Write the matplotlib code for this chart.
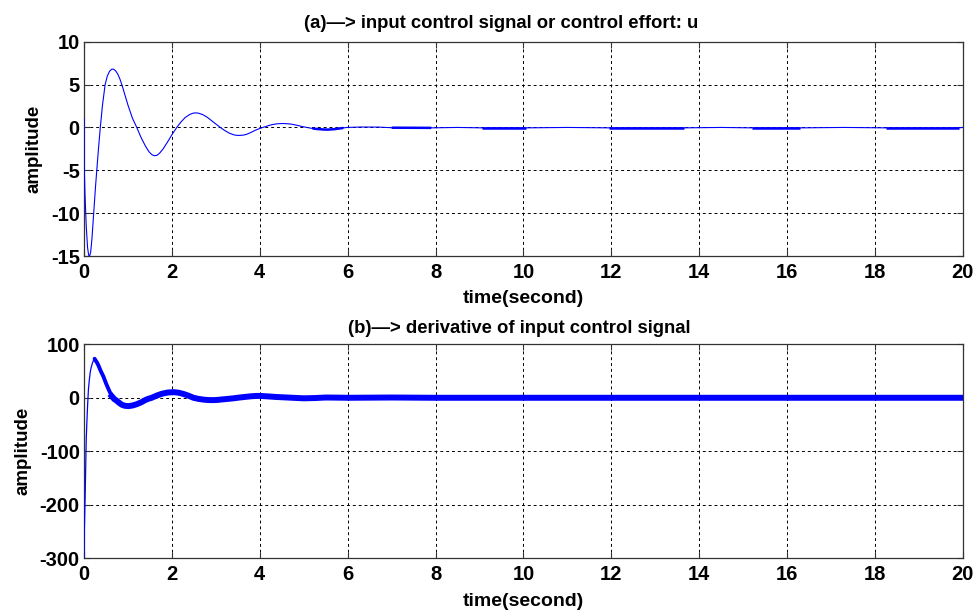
import numpy as np
import matplotlib
matplotlib.use("Agg")
import matplotlib.pyplot as plt
from matplotlib import font_manager

# ---------------- data ----------------
t_u = [0.0, 0.002, 0.02, 0.05, 0.08, 0.105, 0.126, 0.15, 0.18, 0.22, 0.26,
       0.29, 0.33, 0.37, 0.42, 0.48, 0.53, 0.58, 0.63, 0.67, 0.72, 0.77, 0.82,
       0.86, 0.93, 1.0, 1.1, 1.2, 1.3, 1.4, 1.48, 1.55, 1.6, 1.66, 1.72, 1.8,
       1.9, 2.0, 2.11, 2.2, 2.3, 2.4, 2.47, 2.53, 2.6, 2.7, 2.8, 2.95, 3.1,
       3.2, 3.3, 3.4, 3.47, 3.54, 3.62, 3.7, 3.8, 3.9, 4.01, 4.1, 4.2, 4.3,
       4.4, 4.54, 4.7, 4.85, 4.95, 5.07, 5.2, 5.3, 5.45, 5.56, 5.7, 5.8, 5.9,
       5.98, 6.3, 6.7, 7.0, 7.9, 8.5, 9.05, 10.05, 11.0, 11.95, 13.65, 14.5,
       15.2, 16.3, 17.3, 18.25, 19.9, 20.0]
u = [1.0, -4.0, -7.5, -11.5, -14.0, -14.9, -15.0, -14.6, -13.0, -10.0, -7.0,
     -5.0, -2.4, 0.0, 2.6, 5.0, 6.0, 6.55, 6.8, 6.8, 6.6, 6.2, 5.6, 5.0, 3.8,
     2.6, 1.1, 0.0, -1.2, -2.2, -2.85, -3.2, -3.3, -3.25, -3.0, -2.5, -1.7,
     -0.85, 0.0, 0.6, 1.15, 1.5, 1.65, 1.7, 1.67, 1.5, 1.2, 0.6, 0.0, -0.35,
     -0.65, -0.85, -0.92, -0.93, -0.9, -0.8, -0.58, -0.32, -0.1, 0.05, 0.22,
     0.35, 0.43, 0.46, 0.4, 0.25, 0.12, 0.0, -0.12, -0.18, -0.24, -0.25,
     -0.2, -0.13, -0.06, 0.0, 0.05, 0.04, -0.03, -0.05, 0.0, -0.05, -0.05,
     0.0, -0.05, -0.05, 0.0, -0.05, -0.05, 0.0, -0.05, -0.05, 0.0]
# intervals where the control signal chatters (drawn as a thicker trace)
u_chatter = [(5.2, 5.9), (7.0, 7.9), (9.05, 10.05), (11.95, 13.65),
             (15.2, 16.3), (18.25, 19.9)]

t_du = [0.0, 0.003, 0.015, 0.027, 0.04, 0.05, 0.065, 0.08, 0.1, 0.12, 0.14,
        0.16, 0.18, 0.21, 0.24, 0.27, 0.3, 0.33, 0.38, 0.44, 0.5, 0.56, 0.63,
        0.69, 0.75, 0.8, 0.86, 0.93, 1.01, 1.1, 1.2, 1.3, 1.39, 1.46, 1.54,
        1.65, 1.77, 1.9, 2.04, 2.15, 2.27, 2.38, 2.49, 2.6, 2.72, 2.83, 2.94,
        3.05, 3.15, 3.28, 3.4, 3.52, 3.65, 3.8, 3.93, 4.05, 4.2, 4.35, 4.5,
        4.75, 5.0, 5.25, 5.5, 5.75, 6.0, 7.0, 8.0, 10.0, 12.0, 14.0, 16.0,
        18.0, 20.0]
du = [-300.0, -265.0, -220.0, -178.0, -120.0, -78.0, -45.0, -16.0, 15.6,
      33.0, 47.0, 56.0, 62.0, 69.0, 73.0, 69.0, 65.0, 60.0, 50.0, 40.0, 27.0,
      15.6, 3.0, -2.5, -6.0, -9.5, -13.0, -15.0, -15.6, -14.5, -12.0, -8.5,
      -4.4, -2.0, 0.0, 4.0, 7.5, 9.8, 10.5, 9.5, 7.0, 3.8, 0.0, -2.0, -3.5,
      -4.2, -4.4, -3.9, -3.0, -2.0, -1.0, 0.3, 1.5, 2.8, 3.5, 3.3, 2.5, 1.6,
      1.0, 0.0, -1.0, -0.5, 0.5, 0.3, 0.0, 0.5, 0.0, 0.0, 0.0, 0.0, 0.0, 0.0,
      0.0]
du_thin_until = 0.24    # before the peak the trace is a thin line
du_medium_until = 0.63  # then a moderately thick band, afterwards full chatter

x_ticks = [0, 2, 4, 6, 8, 10, 12, 14, 16, 18, 20]
u_ticks = [-15, -10, -5, 0, 5, 10]
du_ticks = [-300, -200, -100, 0, 100]

title_a = "(a)\u2014> input control signal or control effort: u"
title_b = "(b)\u2014> derivative of input control signal"
xlabel = "time(second)"
ylabel = "amplitude"

# ---------------- style ----------------
avail = {f.name for f in font_manager.fontManager.ttflist}
main_font = "Liberation Sans" if "Liberation Sans" in avail else "DejaVu Sans"
plt.rcParams["font.family"] = [main_font, "DejaVu Sans"]
plt.rcParams["font.weight"] = "bold"
plt.rcParams["axes.unicode_minus"] = False

BLUE = "#0000ff"

fig = plt.figure(figsize=(9.76, 6.1), dpi=100)
ax1 = fig.add_axes([0.0861, 0.5803, 0.9005, 0.3513])
ax2 = fig.add_axes([0.0861, 0.0848, 0.9005, 0.3508])


def style(ax, yticks, ylim):
    ax.set_xlim(0, 20)
    ax.set_ylim(*ylim)
    ax.set_xticks(x_ticks)
    ax.set_yticks(yticks)
    ax.tick_params(direction="in", length=4, width=0.8, top=True, right=True,
                   labelsize=14.5, color="#333333")
    ax.tick_params(axis="x", pad=5)
    ax.tick_params(axis="y", pad=3)
    for lab in ax.get_xticklabels() + ax.get_yticklabels():
        lab.set_fontweight("bold")
    ax.grid(True, color="black", linestyle=(0, (3, 3)), linewidth=0.7)
    for s in ax.spines.values():
        s.set_linewidth(0.9)
        s.set_color("#333333")
    ax.set_axisbelow(True)
    ax.set_xlabel(xlabel, fontsize=14, fontweight="bold", labelpad=6)
    ax.set_ylabel(ylabel, fontsize=13.5, fontweight="bold", labelpad=6)


style(ax1, u_ticks, (-15, 10))
style(ax2, du_ticks, (-300, 100))

# top panel
tu = np.array(t_u)
uu = np.array(u)
ax1.plot(tu, uu, color=BLUE, linewidth=0.8, zorder=3)
for a, b in u_chatter:
    m = (tu >= a) & (tu <= b)
    ax1.plot(tu[m], uu[m], color=BLUE, linewidth=1.8, solid_capstyle="butt",
             zorder=3)
ax1.set_title(title_a, fontsize=13.3, fontweight="bold", pad=10, x=0.475)

# bottom panel
td = np.array(t_du)
dd = np.array(du)
k1 = int(np.searchsorted(td, du_thin_until)) + 1
k2 = int(np.searchsorted(td, du_medium_until)) + 1
ax2.plot(td[:k1], dd[:k1], color=BLUE, linewidth=0.9, zorder=3)
ax2.plot(td[k1 - 1:k2], dd[k1 - 1:k2], color=BLUE, linewidth=2.8,
         solid_joinstyle="round", solid_capstyle="round", zorder=3)
ax2.plot(td[k2 - 1:], dd[k2 - 1:], color=BLUE, linewidth=4.3,
         solid_joinstyle="round", zorder=3)
ax2.set_title(title_b, fontsize=13.3, fontweight="bold", pad=8, x=0.495)

fig.savefig("out.png", dpi=100)
